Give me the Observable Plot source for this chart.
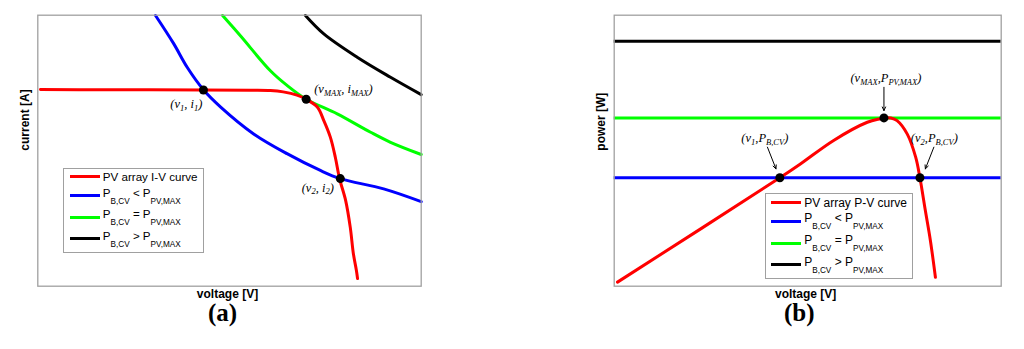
<!DOCTYPE html>
<html><head><meta charset="utf-8">
<script src="https://cdn.jsdelivr.net/npm/d3@7"></script>
<script src="https://cdn.jsdelivr.net/npm/@observablehq/plot@0.6"></script>
<style>
html,body{margin:0;padding:0;background:#fff;}
#wrap{position:relative;width:1024px;height:349px;display:flex;overflow:hidden;}
.panel{position:relative;width:512px;height:349px;flex:none;}
.panel svg{display:block;}
.legend{position:absolute;box-sizing:border-box;border:1.3px solid #a0a0a0;background:#fff;font-family:"Liberation Sans",Arial,sans-serif;color:#000;}
.row{display:flex;align-items:center;white-space:nowrap;}
.sw{width:30px;height:3px;margin-right:3px;flex:none;}
.row sub{font-size:8.2px;vertical-align:-7px;line-height:1;}
</style></head><body>
<div id="wrap"><div class="panel" id="pa"></div><div class="panel" id="pb"></div></div>
<script>
// ---------- panel (a): I-V plane (arbitrary units 0-100) ----------
const ivVoltage = [0.7, 16.4, 43.2, 55.5, 60.7, 64.0, 67.6, 70.0, 72.9, 74.6, 76.3, 77.6, 78.7, 80.3, 81.5, 82.3, 83.1, 83.4];
const ivCurrent = [72.6, 72.5, 72.4, 72.3, 72.2, 71.7, 70.5, 69.0, 66.1, 61.1, 55.0, 47.6, 39.7, 31.6, 21.7, 12.1, 5.8, 2.8];
const lowVoltage = [30.7, 35.4, 39.0, 43.2, 47.7, 56.3, 65.0, 73.7, 78.9, 90.2, 100];
const lowCurrent = [99.9, 89.6, 80.7, 72.5, 66.1, 56.2, 48.9, 42.7, 39.7, 35.9, 31.2];
const eqVoltage = [48.2, 52.9, 60.6, 65.0, 70.0, 78.1, 86.8, 92.0, 100];
const eqCurrent = [99.9, 92.3, 79.6, 74.1, 69.0, 63.6, 56.8, 53.1, 48.6];
const highVoltage = [69.8, 74.6, 83.3, 92.0, 100];
const highCurrent = [99.9, 93.1, 84.5, 77.1, 70.7];
const ptsAVoltage = [43.2, 70.0, 78.9];
const ptsACurrent = [72.4, 69.0, 39.7];
const ptsALabels = ["(v_{1}, i_{1})", "(v_{MAX}, i_{MAX})", "(v_{2}, i_{2})"];

// ---------- panel (b): P-V plane ----------
const pvVoltage = [0.85, 42.8, 48.2, 56.7, 65.4, 68.8, 69.7, 71.5, 73.1, 75.7, 77.9, 79.0, 80.4, 81.7, 83.0];
const pvPower = [1.5, 40.0, 45.2, 53.8, 60.5, 61.8, 62.1, 62.1, 61.1, 56.2, 47.6, 40.0, 27.9, 16.9, 3.3];
const batteryPowers = [40.0, 62.1, 90.4]; // P_B,CV <, =, > P_PV,MAX
const ptsBVoltage = [42.8, 69.7, 79.0];
const ptsBPower = [40.0, 62.1, 40.0];
const ptsBLabels = ["(v_{1},P_{B,CV})", "(v_{MAX},P_{PV,MAX})", "(v_{2},P_{B,CV})"];
const arrowFromV = [39.6, 69.7, 82.6];
const arrowFromP = [51.3, 73.4, 51.3];
const arrowToV = [41.8, 69.7, 80.4];
const arrowToP = [43.3, 64.8, 43.3];

// ---------- legends / labels ----------
const legendA = ["PV array I-V curve", "P_{B,CV} < P_{PV,MAX}", "P_{B,CV} = P_{PV,MAX}", "P_{B,CV} > P_{PV,MAX}"];
const legendB = ["PV array P-V curve", "P_{B,CV} < P_{PV,MAX}", "P_{B,CV} = P_{PV,MAX}", "P_{B,CV} > P_{PV,MAX}"];
const seriesColors = ["#ff0000", "#0000ff", "#00ff00", "#000000"];
const xTitle = "voltage [V]";
const yTitleA = "current [A]";
const yTitleB = "power [W]";
const panelTags = ["(a)", "(b)"];

// build tables
const zip = (xs, ys) => xs.map((x, k) => ({x, y: ys[k]}));
const ivData = zip(ivVoltage, ivCurrent);
const lowData = zip(lowVoltage, lowCurrent);
const eqData = zip(eqVoltage, eqCurrent);
const highData = zip(highVoltage, highCurrent);
const ptsA = ptsAVoltage.map((x, k) => ({x, y: ptsACurrent[k], label: ptsALabels[k]}));
const pvData = zip(pvVoltage, pvPower);
const ptsB = ptsBVoltage.map((x, k) => ({x, y: ptsBPower[k], label: ptsBLabels[k]}));
const arrows = arrowFromV.map((v, k) => ({x1: v, y1: arrowFromP[k], x2: arrowToV[k], y2: arrowToP[k]}));
const hlines = batteryPowers.map((p, k) => ({p, color: seriesColors[k + 1]}));

const serif = "'Liberation Serif','Times New Roman',serif";
const sans = "'Liberation Sans',Arial,sans-serif";
const annFont = {fontFamily: serif, fontStyle: "italic", fontSize: 12.5, fill: "black"};
const titleFont = {fontFamily: sans, fontWeight: "bold", fontSize: 12, fill: "black"};
const tagFont = {fontFamily: serif, fontWeight: "bold", fontSize: 25, fill: "black"};

function label(data, k, opts) {
  return Plot.text([data[k]], {x: "x", y: "y", text: "label", ...annFont, ...opts});
}

const plotA = Plot.plot({
  width: 512, height: 349,
  marginLeft: 37.3, marginRight: 91.3, marginTop: 14.7, marginBottom: 63.3,
  x: {domain: [0, 100], axis: null},
  y: {domain: [0, 100], axis: null},
  style: {background: "white", overflow: "visible"},
  marks: [
    Plot.line(highData, {x: "x", y: "y", stroke: seriesColors[3], strokeWidth: 3, curve: "catmull-rom"}),
    Plot.line(eqData, {x: "x", y: "y", stroke: seriesColors[2], strokeWidth: 3, curve: "catmull-rom"}),
    Plot.line(lowData, {x: "x", y: "y", stroke: seriesColors[1], strokeWidth: 3, curve: "catmull-rom"}),
    Plot.line(ivData, {x: "x", y: "y", stroke: seriesColors[0], strokeWidth: 3, curve: "catmull-rom"}),
    Plot.frame({stroke: "#a0a0a0", strokeWidth: 1.3}),
    Plot.dot(ptsA, {x: "x", y: "y", r: 4.5, fill: "black", stroke: "none"}),
    label(ptsA, 0, {textAnchor: "end", dx: -1, dy: 14}),
    label(ptsA, 1, {textAnchor: "start", dx: 8, dy: -10}),
    label(ptsA, 2, {textAnchor: "end", dx: -6.5, dy: 9}),
    Plot.text([xTitle], {text: d => d, frameAnchor: "bottom", dy: 11.5, dx: -2, ...titleFont}),
    Plot.text([yTitleA], {text: d => d, frameAnchor: "left", rotate: -90, dx: -12.3, ...titleFont}),
    Plot.text([panelTags[0]], {text: d => d, frameAnchor: "bottom", dy: 34.5, dx: -7, ...tagFont})
  ]
});

const plotB = Plot.plot({
  width: 512, height: 349,
  marginLeft: 101.7, marginRight: 23.3, marginTop: 14.7, marginBottom: 63.3,
  x: {domain: [0, 100], axis: null},
  y: {domain: [0, 100], axis: null},
  style: {background: "white", overflow: "visible"},
  marks: [
    Plot.ruleY(hlines, {y: "p", stroke: "color", strokeWidth: 3}),
    Plot.line(pvData, {x: "x", y: "y", stroke: seriesColors[0], strokeWidth: 3, curve: "catmull-rom"}),
    Plot.frame({stroke: "#a0a0a0", strokeWidth: 1.3}),
    Plot.arrow(arrows, {x1: "x1", y1: "y1", x2: "x2", y2: "y2", stroke: "black", strokeWidth: 1, headLength: 6, headAngle: 50}),
    Plot.dot(ptsB, {x: "x", y: "y", r: 4.5, fill: "black", stroke: "none"}),
    label(ptsB, 0, {textAnchor: "middle", dx: -15, dy: -40}),
    label(ptsB, 1, {textAnchor: "middle", dx: 2, dy: -40}),
    label(ptsB, 2, {textAnchor: "middle", dx: 14.4, dy: -40}),
    Plot.text([xTitle], {text: d => d, frameAnchor: "bottom", dy: 11.5, dx: -2, ...titleFont}),
    Plot.text([yTitleB], {text: d => d, frameAnchor: "left", rotate: -90, dx: -12.7, ...titleFont}),
    Plot.text([panelTags[1]], {text: d => d, frameAnchor: "bottom", dy: 34.5, dx: -8.5, ...tagFont})
  ]
});

// convert "_{...}" markers in SVG text into subscript tspans
function richify(svg) {
  d3.select(svg).selectAll("text").each(function () {
    const s = this.textContent;
    if (!s.includes("_{")) return;
    const sel = d3.select(this);
    sel.text(null);
    let shifted = false;
    s.split(/(_\{[^}]*\})/).filter(Boolean).forEach(p => {
      const isSub = p.startsWith("_{");
      const ts = sel.append("tspan").text(isSub ? p.slice(2, -1) : p);
      if (isSub) { ts.attr("font-size", 8.5).attr("dy", shifted ? null : 2.8); shifted = true; }
      else if (shifted) { ts.attr("dy", -2.8); shifted = false; }
    });
  });
}
richify(plotA);
richify(plotB);

document.getElementById("pa").appendChild(plotA);
document.getElementById("pb").appendChild(plotB);

function toHTML(s) {
  return s.replace(/&/g, "&amp;").replace(/</g, "&lt;").replace(/>/g, "&gt;")
          .replace(/_\{([^}]*)\}/g, "<sub>$1</sub>");
}
function legend(host, labels, box) {
  const div = document.createElement("div");
  div.className = "legend";
  Object.assign(div.style, {left: box.left + "px", top: box.top + "px", width: box.width + "px",
    height: box.height + "px", paddingTop: box.pad + "px", paddingLeft: "5.5px", fontSize: box.font + "px"});
  labels.forEach((lab, k) => {
    const row = document.createElement("div");
    row.className = "row";
    row.style.height = (k === 0 ? box.r1 : box.r2) + "px";
    row.innerHTML = `<span class="sw" style="background:${seriesColors[k]}"></span><span>${toHTML(lab)}</span>`;
    div.appendChild(row);
  });
  host.appendChild(div);
}
legend(document.getElementById("pa"), legendA, {left: 63.3, top: 167.7, width: 141, height: 85.6, pad: 0, r1: 16.5, r2: 21.5, font: 11.6});
legend(document.getElementById("pb"), legendB, {left: 252.7, top: 192.7, width: 148.3, height: 86, pad: 1.3, r1: 15.4, r2: 21.8, font: 12});
</script>
</body></html>
